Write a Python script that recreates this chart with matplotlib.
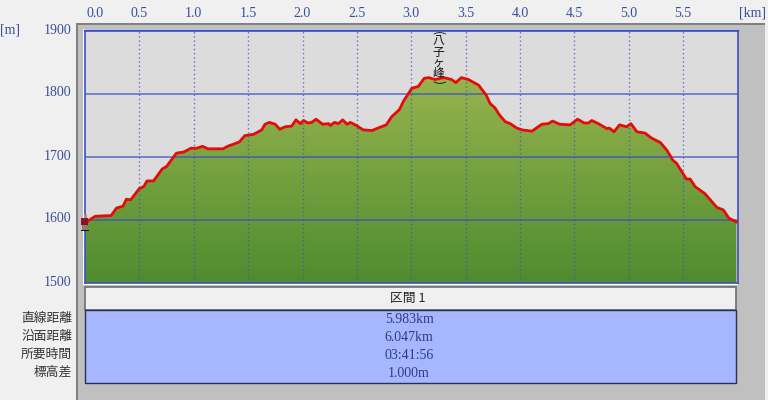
import matplotlib
matplotlib.use("Agg")
import matplotlib.pyplot as plt
import numpy as np
from matplotlib.colors import LinearSegmentedColormap
from matplotlib.patches import Rectangle
from matplotlib.transforms import ScaledTranslation

FUENTE_JP = ['Noto Sans CJK JP', 'DejaVu Sans']
FUENTE_NUM = 'Liberation Serif'
AZUL_TEXTO = '#3d4d9e'
AZUL_LINEA = '#3c4fc4'

# Perfil
distancia_km = [0.00, 0.04, 0.095, 0.24, 0.29, 0.35, 0.38, 0.42, 0.50, 0.54, 0.57, 0.63, 0.71, 0.75,
                0.84, 0.91, 0.975, 1.03, 1.08, 1.13, 1.27, 1.31, 1.36, 1.42, 1.47, 1.55, 1.625, 1.655,
                1.695, 1.75, 1.79, 1.84, 1.90, 1.94, 1.98, 2.01, 2.05, 2.085, 2.125, 2.185, 2.24, 2.255,
                2.295, 2.33, 2.37, 2.41, 2.44, 2.485, 2.56, 2.64, 2.68, 2.77, 2.82, 2.89, 2.93, 3.005,
                3.065, 3.12, 3.16, 3.22, 3.30, 3.37, 3.41, 3.46, 3.525, 3.62, 3.69, 3.725, 3.77, 3.81,
                3.865, 3.91, 3.97, 4.02, 4.11, 4.20, 4.26, 4.30, 4.365, 4.46, 4.53, 4.59, 4.63, 4.66,
                4.72, 4.80, 4.82, 4.865, 4.915, 4.98, 5.02, 5.075, 5.15, 5.21, 5.29, 5.35, 5.405, 5.44,
                5.53, 5.565, 5.61, 5.70, 5.81, 5.87, 5.92, 5.99]
altura_m = [1595, 1600, 1606, 1607, 1619, 1622, 1633, 1632, 1650, 1653, 1662, 1662, 1681, 1685,
            1706, 1708, 1714, 1714, 1717, 1713, 1713, 1717, 1720, 1724, 1734, 1736, 1743, 1752,
            1755, 1752, 1744, 1748, 1749, 1759, 1753, 1758, 1754, 1755, 1760, 1752, 1753, 1750,
            1755, 1753, 1759, 1752, 1755, 1751, 1743, 1742, 1745, 1751, 1764, 1775, 1789, 1809,
            1812, 1825, 1826, 1823, 1826, 1823, 1818, 1826, 1823, 1814, 1798, 1785, 1778, 1767,
            1756, 1753, 1746, 1743, 1741, 1752, 1753, 1757, 1752, 1751, 1760, 1754, 1754, 1758,
            1753, 1745, 1746, 1740, 1751, 1748, 1753, 1740, 1738, 1730, 1723, 1711, 1695, 1690,
            1665, 1665, 1653, 1642, 1620, 1616, 1603, 1597]

ticks_km = [0.0, 0.5, 1.0, 1.5, 2.0, 2.5, 3.0, 3.5, 4.0, 4.5, 5.0, 5.5]
ticks_m = [1500, 1600, 1700, 1800, 1900]

etiquetas_fila = ['直線距離', '沿面距離', '所要時間', '標高差']
valores_fila = ['5.983km', '6.047km', '03:41:56', '1.000m']
titulo_tabla = '区間 1'
nombre_pico = ['八', '子', 'ヶ', '峰']

fig = plt.figure(figsize=(7.68, 4.0), dpi=100, facecolor='#f0f0f0')

# Fondo en pixeles: panel gris y tabla
fondo = fig.add_axes([0, 0, 1, 1], zorder=0)
fondo.set_xlim(0, 768)
fondo.set_ylim(400, 0)
fondo.axis('off')
fondo.add_patch(Rectangle((76, 23), 689, 377, fc='#c0c0c0', ec='none'))
fondo.add_patch(Rectangle((76, 23), 689, 1.5, fc='#808080', ec='none'))
fondo.add_patch(Rectangle((76, 23), 1.5, 377, fc='#808080', ec='none'))
fondo.add_patch(Rectangle((83, 29), 655, 256, fc='#ffffff', ec='none'))
fondo.add_patch(Rectangle((85, 29), 652.5, 2, fc='#dcdcdc', ec='none'))
fondo.plot([84, 738], [29.5, 29.5], color=AZUL_LINEA, lw=1.0)
fondo.add_patch(Rectangle((84.5, 287), 651, 23, fc='#f0f0f0', ec='#6e6e6e', lw=1.2))
fondo.add_patch(Rectangle((84.5, 310), 651, 73, fc='#a6b6ff', ec='#2b3050', lw=1.0))

fondo.text(408, 298, titulo_tabla, family=FUENTE_JP, fontsize=9.2, color='#222222', ha='center', va='center')
filas_y = [319, 337, 355, 373]
for y, etiqueta, valor in zip(filas_y, etiquetas_fila, valores_fila):
    fondo.text(72, y - 0.5, etiqueta, family=FUENTE_JP, fontsize=9.2, color='#333333', ha='right', va='center')
    fondo.text(409, y + 0.5, valor, family=FUENTE_NUM, fontsize=10, color='#2f3d80', ha='center', va='center')
fondo.text(753, 13, '[km]', family=FUENTE_NUM, fontsize=10, color=AZUL_TEXTO, ha='center', va='center')
fondo.text(0, 30, '[m]', family=FUENTE_NUM, fontsize=10, color=AZUL_TEXTO, ha='left', va='center')

# Grafico del perfil
ax = fig.add_axes([85 / 768, 1 - 283 / 400, 652.5 / 768, 252 / 400], zorder=1)
ax.set_facecolor('#dcdcdc')
ax.set_xlim(0, 6.0)
ax.set_ylim(1500, 1900)

verdes = LinearSegmentedColormap.from_list('verdes', ['#4e8c2f', '#98b44e'])
gradiente = np.linspace(0, 1, 256).reshape(-1, 1)
img = ax.imshow(gradiente, cmap=verdes, origin='lower', aspect='auto',
                extent=(0, 6.0, 1500, 1830), zorder=1)
relleno = ax.fill_between(distancia_km, altura_m, 1500, color='none', zorder=1)
img.set_clip_path(relleno.get_paths()[0], transform=ax.transData)

for x in ticks_km[1:]:
    ax.axvline(x, color=AZUL_LINEA, lw=1.0, ls=(0, (1, 2)), alpha=0.75, zorder=2)
for y in ticks_m[1:-1]:
    ax.axhline(y, color=AZUL_LINEA, lw=1.2, alpha=0.75, zorder=2)
ax.plot(distancia_km, altura_m, color='#e60a0a', lw=2.0, solid_joinstyle='round', zorder=3)

for lado in ax.spines.values():
    lado.set_color(AZUL_LINEA)
    lado.set_linewidth(1.2)

ax.xaxis.tick_top()
ax.set_xticks(ticks_km)
ax.set_xticklabels([f'{t:.1f}' for t in ticks_km])
ax.set_yticks(ticks_m)
ax.tick_params(axis='both', length=0, labelcolor=AZUL_TEXTO, labelsize=10)
ax.tick_params(axis='x', pad=8)
ax.tick_params(axis='y', pad=10)
for t in ax.get_xticklabels() + ax.get_yticklabels():
    t.set_family(FUENTE_NUM)
# 0.0 va desplazado a la derecha, y las etiquetas de altura un poco arriba
primera = ax.get_xticklabels()[0]
primera.set_transform(primera.get_transform() + ScaledTranslation(10 / 100, 0, fig.dpi_scale_trans))
for t in ax.get_yticklabels():
    t.set_transform(t.get_transform() + ScaledTranslation(0, 2.5 / 100, fig.dpi_scale_trans))

# Encima: nombre del pico en vertical y el excursionista
arriba = fig.add_axes([0, 0, 1, 1], zorder=2)
arriba.set_xlim(0, 768)
arriba.set_ylim(400, 0)
arriba.axis('off')
arriba.patch.set_alpha(0)
arriba.text(438, 33, '(', family=FUENTE_JP, fontsize=8.5, rotation=-90, color='#111111', ha='center', va='center')
arriba.text(438, 82, ')', family=FUENTE_JP, fontsize=8.5, rotation=-90, color='#111111', ha='center', va='center')
arriba.text(438, 57.5, '\n'.join(nombre_pico), family=FUENTE_JP, fontsize=8.5, color='#111111',
            ha='center', va='center', linespacing=0.8)

arriba.add_patch(Rectangle((84, 214.5), 3, 3.5, fc='#c88a60', ec='none'))
arriba.add_patch(Rectangle((81, 218), 6.5, 6.5, fc='#8a1030', ec='none'))
arriba.add_patch(Rectangle((82, 224.5), 4.5, 5, fc='#8a8068', ec='none'))
arriba.add_patch(Rectangle((81, 229.5), 8, 1.5, fc='#111111', ec='none'))

fig.savefig('out.png', dpi=100, facecolor=fig.get_facecolor())
